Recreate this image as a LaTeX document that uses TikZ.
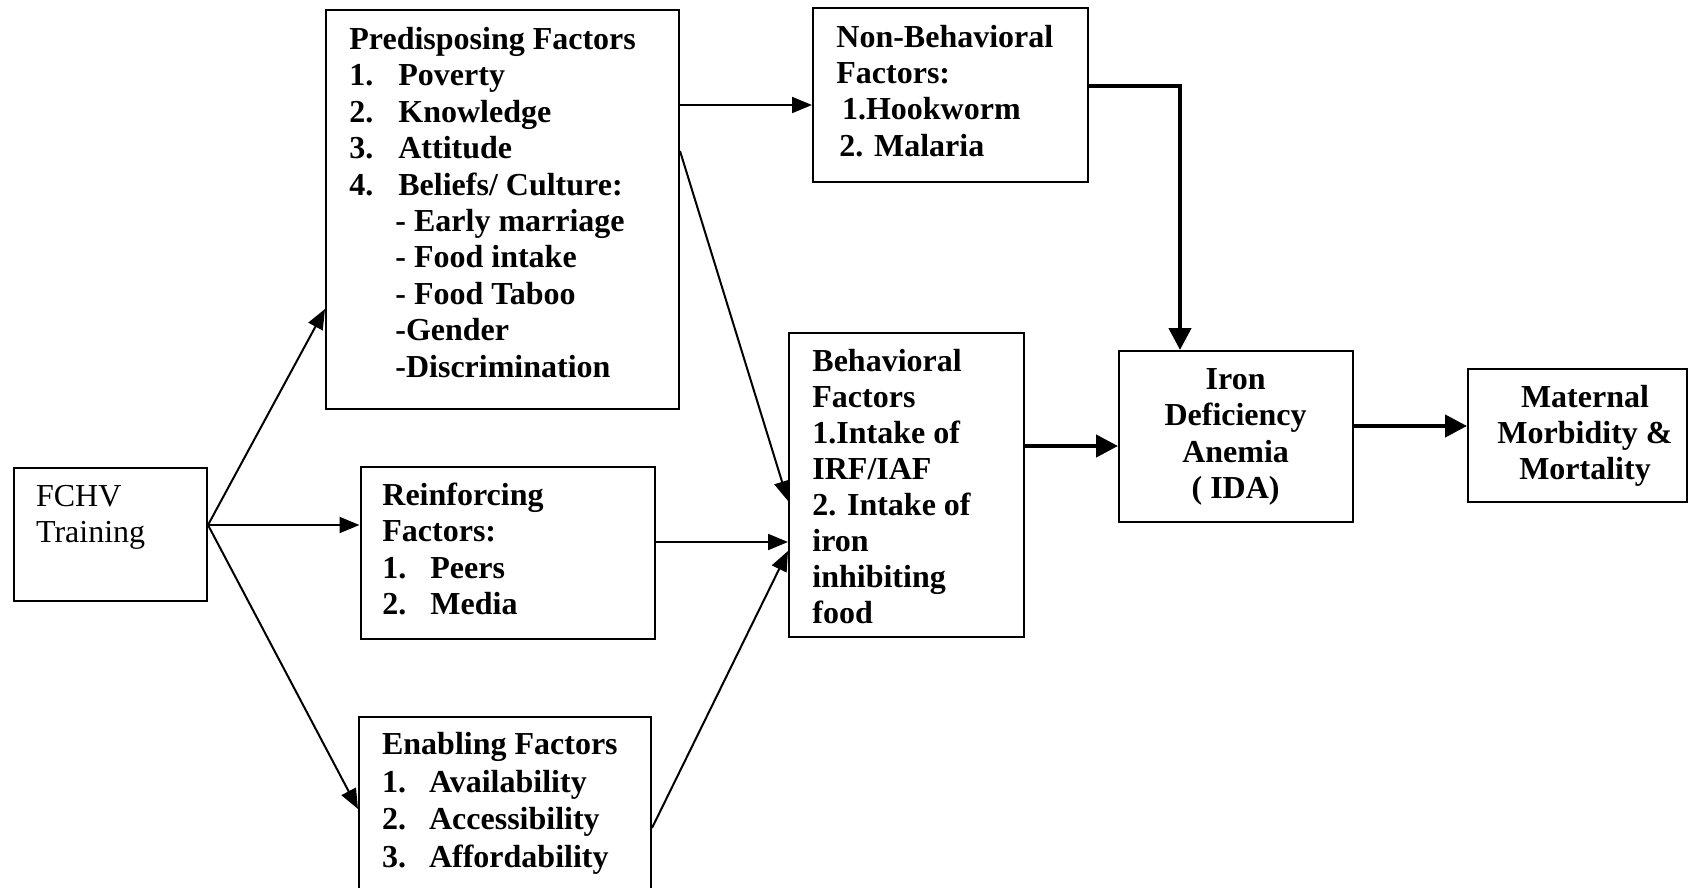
\documentclass[tikz,border=0pt]{standalone}
\usepackage{fontspec}
\setmainfont{Liberation Serif}
\usetikzlibrary{arrows.meta,calc}
\tikzset{
  box/.style={draw, line width=1pt, inner sep=0pt, anchor=north west, rectangle},
  txt/.style={inner sep=0pt, anchor=north west, align=left, font=\bfseries\fontsize{16}{18.2}\selectfont},
  ctxt/.style={inner sep=0pt, anchor=north, align=center, font=\bfseries\fontsize{16}{18.2}\selectfont},
  thinarrow/.style={line width=1pt, -{Triangle[length=10pt,width=8pt]}},
  thickarrow/.style={line width=2.2pt, -{Triangle[length=11pt,width=11pt]}},
}
\newcommand\fl{\rule{0pt}{13pt}}
\newcommand\itm[1]{\makebox[24.5pt][l]{#1}}
\newcommand\sub{\hspace*{23pt}}
\begin{document}
\begin{tikzpicture}[x=0.5pt,y=-0.5pt]
\useasboundingbox (0,0) rectangle (1688,888);
\clip (0,0) rectangle (1688,888);
\fill[white] (0,0) rectangle (1688,888);

% boxes
\node[box, minimum width=96.75pt, minimum height=66.5pt] (fchv) at (12.5,467) {};
\node[box, minimum width=176.5pt, minimum height=199.5pt] (pre) at (325,9) {};
\node[box, minimum width=147.25pt, minimum height=86pt] (rein) at (359.5,466) {};
\node[box, minimum width=146pt, minimum height=92pt] (enab) at (358,716) {};
\node[box, minimum width=137.25pt, minimum height=86.75pt] (nonb) at (812,7.5) {};
\node[box, minimum width=117.25pt, minimum height=152pt] (beh) at (788,332) {};
\node[box, minimum width=117pt, minimum height=85.5pt] (ida) at (1118,350) {};
\node[box, minimum width=109.5pt, minimum height=66.25pt] (mat) at (1467,368) {};

% texts
\node[txt, font=\fontsize{16}{18.2}\selectfont] (fchvT) at (35.7,480) {\fl FCHV\\Training};
\node[txt] (preT) at (349,23) {\fl Predisposing Factors\\
  \itm{1.}Poverty\\
  \itm{2.}Knowledge\\
  \itm{3.}Attitude\\
  \itm{4.}Beliefs/ Culture:\\
  \sub- Early marriage\\
  \sub- Food intake\\
  \sub- Food Taboo\\
  \sub-Gender\\
  \sub-Discrimination};
\node[txt] (reinT) at (382,479) {\fl Reinforcing\\Factors:\\\makebox[24pt][l]{1.}Peers\\\makebox[24pt][l]{2.}Media};
\node[txt, font=\bfseries\fontsize{16}{18.8}\selectfont] (enabT) at (381.7,728) {\fl Enabling Factors\\
  \makebox[23.5pt][l]{1.}Availability\\
  \makebox[23.5pt][l]{2.}Accessibility\\
  \makebox[23.5pt][l]{3.}Affordability};
\node[txt] (nonbT) at (836,20.7) {\fl Non-Behavioral\\Factors:\\\hspace*{2.8pt}1.Hookworm\\\hspace*{1.5pt}2. Malaria};
\node[txt, font=\bfseries\fontsize{16}{18}\selectfont] (behT) at (812,344.7) {\fl Behavioral\\Factors\\1.Intake of\\IRF/IAF\\2. Intake of\\iron\\inhibiting\\food};
\node[ctxt] (idaT) at (1235.6,363) {\fl Iron\\Deficiency\\Anemia\\( IDA)};
\node[ctxt, font=\bfseries\fontsize{16}{18}\selectfont] (matT) at (1585,381) {\fl Maternal\\Morbidity \&\\Mortality};

% connectors
\coordinate (f0) at ([yshift=4.75pt]fchv.east);
\draw[thinarrow] (f0) -- ([yshift=-49.75pt]pre.west);
\draw[thinarrow] (f0) -- (f0 -| rein.west);
\draw[thinarrow] (f0) -- (enab.west);
\coordinate (p0) at ([yshift=52.25pt]pre.east);
\draw[thinarrow] (p0) -- (p0 -| nonb.west);
\draw[thinarrow] ([yshift=29.25pt]pre.east) -- ([yshift=-8pt]beh.west);
\coordinate (r0) at ([yshift=5.5pt]rein.east);
\draw[thinarrow] (r0) -- (r0 -| beh.west);
\draw[thinarrow] ([yshift=-9.5pt]enab.east) -- ([yshift=-33pt]beh.west);
\draw[thickarrow] ([yshift=4.6pt]nonb.east) -| ([xshift=-28pt]ida.north);
\coordinate (b0) at ([yshift=19.5pt]beh.east);
\draw[thickarrow] (b0) -- (b0 -| ida.west);
\coordinate (i0) at ([yshift=5.25pt]ida.east);
\draw[thickarrow] (i0) -- (i0 -| mat.west);
\end{tikzpicture}
\end{document}
